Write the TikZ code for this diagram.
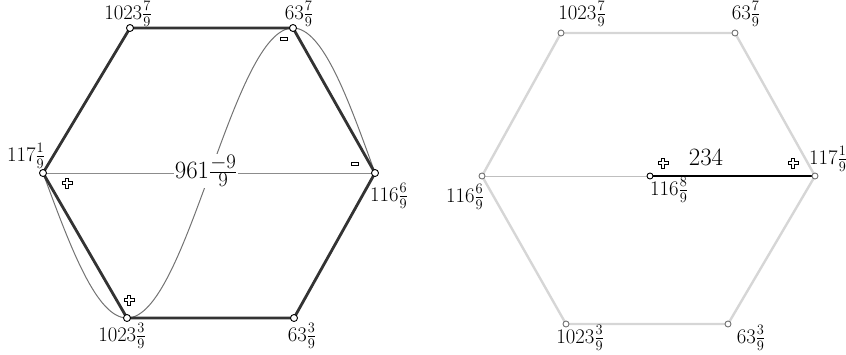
\documentclass[tikz,border=0pt]{standalone}
\begin{document}
\begin{tikzpicture}[x=1pt,y=-1pt,
  lbl/.style={font=\fontsize{20}{24}\selectfont, inner sep=0pt},
  biglbl/.style={font=\fontsize{31}{36}\selectfont, inner sep=1pt},
  hexedge/.style={line width=2.8pt, draw=black!80, line cap=round},
  paleedge/.style={line width=2.4pt, draw=black!16, line cap=round},
  thinline/.style={line width=0.8pt, draw=black!45},
  wave/.style={line width=1pt, draw=black!55},
  vtx/.style={circle, draw=black, fill=white, line width=0.9pt, inner sep=0pt, minimum size=7pt},
  pvtx/.style={circle, draw=black!55, fill=white, line width=0.9pt, inner sep=0pt, minimum size=6pt},
  hplus/.pic={\draw[line width=0.5pt, fill=white] (-1.4,-5)--(1.4,-5)--(1.4,-1.4)--(5,-1.4)--(5,1.4)--(1.4,1.4)--(1.4,5)--(-1.4,5)--(-1.4,1.4)--(-5,1.4)--(-5,-1.4)--(-1.4,-1.4)--cycle;},
  hminus/.pic={\draw[line width=0.5pt, fill=white] (-3.5,-1.5) rectangle (3.5,1.5);}
]
\useasboundingbox (0,0) rectangle (846,354);

% ---------- left hexagon ----------
\coordinate (aTL) at (130,28);
\coordinate (aTR) at (293,28);
\coordinate (aR)  at (375,173);
\coordinate (aBR) at (294,318);
\coordinate (aBL) at (127,318);
\coordinate (aL)  at (43,173);
\coordinate (aC)  at (210,173);

\draw[thinline] (aL) -- (aR);
\draw[wave] (aL) sin (aBL) cos (aC) sin (aTR) cos (aR);
\draw[hexedge] (aL) -- (aTL) -- (aTR) -- (aR) -- (aBR) -- (aBL) -- cycle;

\node[biglbl, fill=white] (a961) at (206,171) {$961\frac{-9}{9}$};

\foreach \p in {aTL,aTR,aR,aBR,aBL,aL} \node[vtx] (\p v) at (\p) {};

\node[lbl] (laTL) at (128,14) {$1023\frac{7}{9}$};
\node[lbl] (laTR) at (299,14) {$63\frac{7}{9}$};
\node[lbl] (laL)  at (26,156) {$117\frac{1}{9}$};
\node[lbl] (laR)  at (389,196) {$116\frac{6}{9}$};
\node[lbl] (laBL) at (122,336) {$1023\frac{3}{9}$};
\node[lbl] (laBR) at (302,336) {$63\frac{3}{9}$};

\pic at (67,183) {hplus};
\pic at (129,300) {hplus};
\pic at (284,39) {hminus};
\pic at (355,164) {hminus};

% ---------- right hexagon ----------
\coordinate (bTL) at (561,33);
\coordinate (bTR) at (735,33);
\coordinate (bR)  at (815,176);
\coordinate (bBR) at (728,324);
\coordinate (bBL) at (566,324);
\coordinate (bL)  at (482,176);
\coordinate (bC)  at (650,176);

\draw[paleedge] (bL) -- (bTL) -- (bTR) -- (bR) -- (bBR) -- (bBL) -- cycle;
\draw[line width=0.8pt, draw=black!25] (bL) -- (bC);
\draw[line width=2.6pt, draw=black] (bC) -- (bR);

\foreach \p in {bTL,bTR,bR,bBR,bBL,bL} \node[pvtx] (\p v) at (\p) {};
\node[vtx, minimum size=6pt] (bCv) at (bC) {};

\node[biglbl] (b234) at (706,157) {$234$};

\node[lbl] (lbTL) at (582,14) {$1023\frac{7}{9}$};
\node[lbl] (lbTR) at (746,14) {$63\frac{7}{9}$};
\node[lbl, anchor=west] (lbR) at (809,159) {$117\frac{1}{9}$};
\node[lbl] (lbL)  at (465,197) {$116\frac{6}{9}$};
\node[lbl] (lbC)  at (669,190) {$116\frac{8}{9}$};
\node[lbl] (lbBL) at (580,338) {$1023\frac{3}{9}$};
\node[lbl] (lbBR) at (751,338) {$63\frac{3}{9}$};

\pic at (663,163) {hplus};
\pic at (793,163) {hplus};
\end{tikzpicture}
\end{document}
